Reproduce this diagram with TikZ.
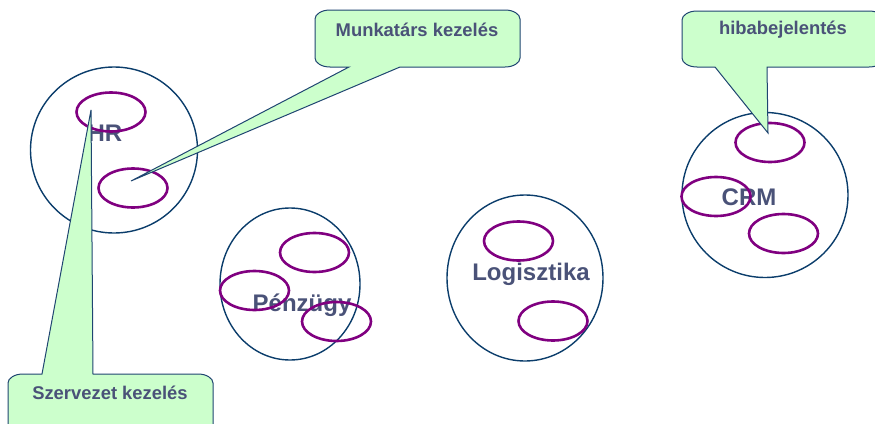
\documentclass[tikz,border=0pt]{standalone}
\usepackage{fontspec}
\setmainfont{Liberation Sans}
\usetikzlibrary{shapes.geometric}
\definecolor{ringblue}{HTML}{0B3D6B}
\definecolor{subpurple}{HTML}{800080}
\definecolor{labelslate}{HTML}{4A5278}
\definecolor{calloutfill}{HTML}{CCFFCC}
\definecolor{calloutline}{HTML}{1F4571}
\tikzset{
  domain/.style={ellipse, draw=ringblue, line width=1.4pt, inner sep=0pt,
                 minimum width=#1},
  domain/.default=166pt,
  subarea/.style={ellipse, draw=subpurple, line width=2.6pt, inner sep=0pt,
                  minimum width=69pt, minimum height=39pt},
  domainlabel/.style={text=labelslate, font=\bfseries\fontsize{24}{27}\selectfont, inner sep=0pt},
  calloutlabel/.style={text=labelslate, font=\bfseries\fontsize{18.4}{21}\selectfont, inner sep=0pt},
  callout/.style={fill=calloutfill, draw=calloutline, line width=1pt, line join=miter}
}
\begin{document}
\begin{tikzpicture}[x=1pt, y=-1pt]
\useasboundingbox (0,0) rectangle (875,423);
\clip (0,0) rectangle (875,423);

% domain circles
\node[domain=167pt, minimum height=166pt] (hr)   at (114,150) {};
\node[domain=140pt, minimum height=152pt] (penz) at (290,284) {};
\node[domain=156pt, minimum height=166pt] (log)  at (525,278) {};
\node[domain=166pt, minimum height=165pt] (crm)  at (765,195) {};

% domain names
\node[domainlabel] (hrname)   at (105,133) {HR};
\node[domainlabel] (penzname) at (302,305) {Pénzügy};
\node[domainlabel] (logname)  at (531,274) {Logisztika};
\node[domainlabel] (crmname)  at (749,197) {CRM};

% sub-areas
\node[subarea] (hr1)   at (111,112) {};
\node[subarea] (hr2)   at (133,188) {};
\node[subarea] (penz1) at (314.5,252.5) {};
\node[subarea] (penz2) at (254.5,290.5) {};
\node[subarea] (penz3) at (336.5,321.5) {};
\node[subarea] (log1)  at (518.5,241) {};
\node[subarea] (log2)  at (553,321) {};
\node[subarea] (crm1)  at (770,142.5) {};
\node[subarea] (crm2)  at (716,196.5) {};
\node[subarea] (crm3)  at (783.5,233.5) {};

% callout pointer tips
\coordinate (tipM) at (131,181);
\coordinate (tipS) at (91,110);
\coordinate (tipH) at (768,133);

% callout: Munkatárs kezelés
\path[callout] (315,19) .. controls (315,14.05) and (321.75,10) .. (330,10)
  -- (505,10) .. controls (513.25,10) and (520,14.05) .. (520,19)
  -- (520,58) .. controls (520,62.95) and (513.25,67) .. (505,67)
  -- (400,67) -- (tipM) -- (349,67)
  -- (330,67) .. controls (321.75,67) and (315,62.95) .. (315,58) -- cycle;
\node[calloutlabel] (munka) at (417,30) {Munkatárs kezelés};

% callout: hibabejelentés
\path[callout] (682,20) .. controls (682,15.05) and (688.75,11) .. (697,11)
  -- (869,11) .. controls (877.25,11) and (884,15.05) .. (884,20)
  -- (884,58) .. controls (884,62.95) and (877.25,67) .. (869,67)
  -- (767,67) -- (tipH) -- (715,67)
  -- (697,67) .. controls (688.75,67) and (682,62.95) .. (682,58) -- cycle;
\node[calloutlabel] (hiba) at (783,30) {hibabejelentés};

% callout: Szervezet kezelés
\path[callout] (8,383) .. controls (8,378.05) and (14.75,374) .. (23,374)
  -- (42,374) -- (tipS) -- (93,374)
  -- (198,374) .. controls (206.25,374) and (213,378.05) .. (213,383)
  -- (213,431) .. controls (213,435.95) and (206.25,440) .. (198,440)
  -- (23,440) .. controls (14.75,440) and (8,435.95) .. (8,431) -- cycle;
\node[calloutlabel] (szerv) at (110,393) {Szervezet kezelés};
\end{tikzpicture}
\end{document}
